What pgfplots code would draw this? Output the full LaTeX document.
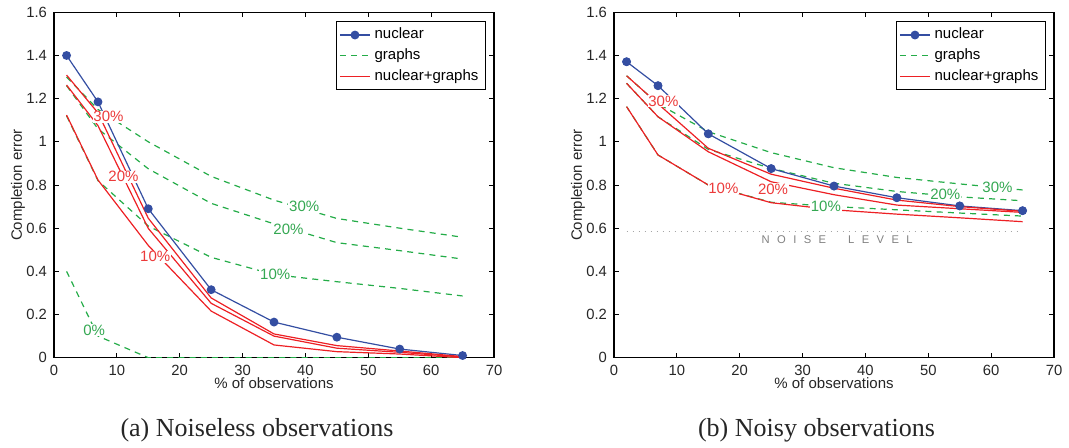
\documentclass[border=0pt]{standalone}
\usepackage{pgfplots}
\pgfplotsset{compat=1.18}
\usepackage{fontspec}
\setmainfont{Liberation Sans}
\newfontfamily\capfont{Liberation Serif}
\definecolor{nblue}{RGB}{52,78,162}
\definecolor{ngreen}{RGB}{36,172,72}
\definecolor{nred}{RGB}{237,32,36}
\definecolor{lred}{RGB}{236,58,58}
\definecolor{lgreen}{RGB}{52,168,82}
\tikzset{
  bl/.style={nblue, line width=0.6pt, mark=*, mark size=1.9pt, mark options={solid, fill=nblue, draw=nblue}},
  gr/.style={ngreen, line width=0.6pt, dash pattern=on 3pt off 2.6pt},
  rd/.style={nred, line width=0.6pt},
  lab/.style={fill=white, inner sep=0.4pt, font=\fontsize{7.5}{8}\selectfont},
}
\pgfplotsset{
  myaxis/.style={
    scale only axis, width=220pt, height=172.7pt,
    xmin=0, xmax=70, ymin=0, ymax=1.6,
    xtick={0,10,...,70}, ytick={0,0.2,...,1.6},
    /pgf/number format/assume math mode=true,
    tick label style={font=\fontsize{7.4}{8}\selectfont, text=black!85},
    label style={font=\fontsize{7.5}{8}\selectfont, text=black!85},
    xlabel={\% of observations},
    ylabel={Completion error},
    xlabel style={at={(axis description cs:0.5,0)}, anchor=center, yshift=-12.8pt},
    ylabel style={at={(axis description cs:-0.082,0.5)}, anchor=center},
    axis line style={line width=0.75pt},
    major tick length=2.5pt,
    tick style={line width=0.4pt, black},
    legend style={at={(1,1)}, anchor=north east, xshift=-4pt, yshift=-4.4pt,
      font=\fontsize{7.5}{8.5}\selectfont, draw=black, line width=0.6pt,
      inner xsep=1.5pt, inner ysep=1.2pt, row sep=-0.6pt},
    legend cell align=left,
    legend image code/.code={\draw[mark repeat=2,mark phase=2,#1] plot coordinates {(0pt,0pt)(7.5pt,0pt)(15pt,0pt)};},
  },
}
\begin{document}
\begin{tikzpicture}
\path[use as bounding box] (0,0) rectangle (534.5pt,224pt);
% ---------------- (a) noiseless
\begin{axis}[myaxis, at={(27pt,45.15pt)}, anchor=south west]
\addlegendimage{bl}\addlegendentry{nuclear}
\addlegendimage{gr}\addlegendentry{graphs}
\addlegendimage{rd}\addlegendentry{nuclear+graphs}
% graphs
\addplot[gr, forget plot] coordinates {(2,1.30)(7,1.15)(15,1.0)(25,0.84)(35,0.73)(45,0.645)(55,0.60)(65,0.558)};
\addplot[gr, forget plot] coordinates {(2,1.26)(7,1.06)(15,0.875)(25,0.715)(35,0.62)(45,0.533)(55,0.496)(65,0.457)};
\addplot[gr, forget plot] coordinates {(2,1.12)(7,0.82)(15,0.61)(25,0.465)(35,0.385)(45,0.352)(55,0.321)(65,0.286)};
\addplot[gr, forget plot] coordinates {(2,0.40)(7,0.10)(15,0)(25,0)(35,0)(45,0)(55,0)(65,0)};
% nuclear
\addplot[bl, forget plot] coordinates {(2,1.40)(7,1.185)(15,0.69)(25,0.315)(35,0.165)(45,0.095)(55,0.04)(65,0.01)};
% nuclear+graphs
\addplot[rd, forget plot] coordinates {(2,1.309)(7,1.134)(15,0.646)(25,0.277)(35,0.11)(45,0.056)(55,0.031)(65,0.005)};
\addplot[rd, forget plot] coordinates {(2,1.263)(7,1.075)(15,0.599)(25,0.252)(35,0.10)(45,0.044)(55,0.025)(65,0.003)};
\addplot[rd, forget plot] coordinates {(2,1.124)(7,0.823)(15,0.52)(25,0.216)(35,0.059)(45,0.028)(55,0.017)(65,0.0)};
% labels
\node[lab, text=lred] at (axis cs:8.66,1.116) {30\%};
\node[lab, text=lred] at (axis cs:11.05,0.838) {20\%};
\node[lab, text=lred] at (axis cs:16.1,0.468) {10\%};
\node[lab, text=lgreen] at (axis cs:6.4,0.128) {0\%};
\node[lab, text=lgreen] at (axis cs:35.2,0.386) {10\%};
\node[lab, text=lgreen] at (axis cs:37.3,0.595) {20\%};
\node[lab, text=lgreen] at (axis cs:39.8,0.70) {30\%};
\end{axis}
% ---------------- (b) noisy
\begin{axis}[myaxis, at={(307pt,45.15pt)}, anchor=south west]
\addlegendimage{bl}\addlegendentry{nuclear}
\addlegendimage{gr}\addlegendentry{graphs}
\addlegendimage{rd}\addlegendentry{nuclear+graphs}
\addplot[gray!70, line width=0.5pt, dash pattern=on 0.5pt off 2.5pt, forget plot] coordinates {(2,0.585)(65,0.585)};
\node[text=gray, font=\fontsize{5.6}{6}\selectfont, anchor=center] at (axis cs:35.5,0.547) {N\hspace{3.7pt}O\hspace{3.7pt}I\hspace{3.7pt}S\hspace{3.7pt}E\hspace{11pt}L\hspace{3.7pt}E\hspace{3.7pt}V\hspace{3.7pt}E\hspace{3.7pt}L};
% graphs
\addplot[gr, forget plot] coordinates {(2,1.306)(7,1.176)(15,1.047)(25,0.95)(35,0.88)(45,0.835)(55,0.805)(65,0.777)};
\addplot[gr, forget plot] coordinates {(2,1.271)(7,1.116)(15,0.965)(25,0.877)(35,0.808)(45,0.77)(55,0.745)(65,0.727)};
\addplot[gr, forget plot] coordinates {(2,1.163)(7,0.939)(15,0.80)(25,0.72)(35,0.70)(45,0.685)(55,0.67)(65,0.656)};
% nuclear
\addplot[bl, forget plot] coordinates {(2,1.371)(7,1.26)(15,1.037)(25,0.876)(35,0.795)(45,0.741)(55,0.703)(65,0.681)};
% nuclear+graphs
\addplot[rd, forget plot] coordinates {(2,1.306)(7,1.176)(15,0.97)(25,0.85)(35,0.785)(45,0.73)(55,0.70)(65,0.678)};
\addplot[rd, forget plot] coordinates {(2,1.271)(7,1.116)(15,0.954)(25,0.815)(35,0.755)(45,0.707)(55,0.69)(65,0.673)};
\addplot[rd, forget plot] coordinates {(2,1.163)(7,0.939)(15,0.80)(25,0.718)(35,0.685)(45,0.665)(55,0.648)(65,0.63)};
% labels
\node[lab, text=lred] at (axis cs:7.85,1.189) {30\%};
\node[lab, text=lred] at (axis cs:17.4,0.785) {10\%};
\node[lab, text=lred] at (axis cs:25.3,0.78) {20\%};
\node[lab, text=lgreen] at (axis cs:33.7,0.70) {10\%};
\node[lab, text=lgreen] at (axis cs:52.7,0.757) {20\%};
\node[lab, text=lgreen] at (axis cs:61,0.787) {30\%};
% nuclear markers on top
\addplot[nblue, only marks, mark=*, mark size=1.9pt, forget plot] coordinates {(2,1.371)(7,1.26)(15,1.037)(25,0.876)(35,0.795)(45,0.741)(55,0.703)(65,0.681)};
\end{axis}
\node[font=\capfont\fontsize{13}{14}\selectfont, text=black!85] at (128.5pt,9pt) {(a) Noiseless observations};
\node[font=\capfont\fontsize{13}{14}\selectfont, text=black!85] at (408.25pt,9pt) {(b) Noisy observations};
\end{tikzpicture}
\end{document}
